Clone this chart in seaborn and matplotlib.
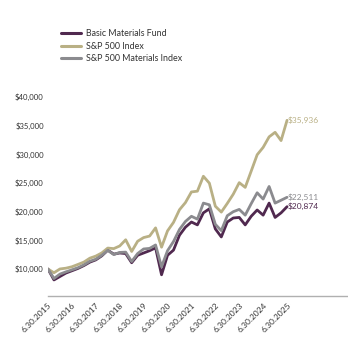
import matplotlib
matplotlib.use("Agg")
import matplotlib.pyplot as plt
import seaborn as sns
import pandas as pd
import numpy as np
from matplotlib.lines import Line2D

years = [str(y) for y in range(2015, 2026)]
tick_labels = [f"6.30.{y}" for y in years]

fund = [10000, 8100, 8700, 9300, 9700, 10100, 10600, 11200, 11600, 12300,
        13300, 12600, 12800, 12700, 11100, 12400, 12800, 13200, 13700, 9000,
        12400, 13300, 15900, 17300, 18200, 17700, 19800, 20500, 17000, 15600,
        18200, 18900, 19000, 17700, 19200, 20300, 19400, 21500, 19000, 19800,
        20874]
sp500 = [10000, 9356, 10015, 10150, 10399, 10800, 11213, 11893, 12260, 12810,
         13660, 13560, 14023, 15104, 13065, 14848, 15487, 15750, 17179, 13812,
         16652, 18139, 20340, 21595, 23444, 23578, 26180, 24977, 20955, 19931,
         21444, 23055, 25063, 24241, 27072, 29930, 31216, 33052, 33843, 32400,
         35936]
materials = [10000, 8350, 9120, 9510, 9860, 10225, 10715, 11350, 11710, 12400,
             13260, 12530, 12900, 12950, 11315, 12700, 13500, 13600, 14200, 10400,
             13200, 14800, 16900, 18300, 19200, 18700, 21500, 21200, 17800, 16700,
             19300, 20000, 20400, 19400, 21400, 23300, 22200, 24400, 21500, 22000,
             22511]

names = ["Basic Materials Fund", "S&P 500 Index", "S&P 500 Materials Index"]
colors = ["#50294f", "#b9b085", "#8b8b8f"]
end_labels = ["$20,874", "$35,936", "$22,511"]
ytick_vals = [10000, 15000, 20000, 25000, 30000, 35000, 40000]

q = np.arange(len(fund))
df = pd.DataFrame({
    "q": np.concatenate([q, q, q]),
    "value": fund + sp500 + materials,
    "series": [names[0]] * len(q) + [names[1]] * len(q) + [names[2]] * len(q),
})

sns.set_style("white")
plt.rcParams["font.family"] = ["Lato", "DejaVu Sans"]

fig = plt.figure(figsize=(3.48, 3.40), dpi=100)
ax = fig.add_axes([48 / 348, 44 / 340, 300 / 348, 199 / 340])

sns.lineplot(data=df, x="q", y="value", hue="series", hue_order=names,
             palette=dict(zip(names, colors)), linewidth=2.0, ax=ax,
             legend=False)

ax.set_xlim(0, 50.2)
ax.set_ylim(5300, 40000)
ax.set_yticks(ytick_vals)
ax.set_yticklabels([f"${v:,}" for v in ytick_vals], fontsize=5.6, color="#333333")
ax.set_xticks(np.arange(0, 41, 4))
ax.set_xticklabels(tick_labels, rotation=45, ha="right", rotation_mode="anchor",
                   fontsize=6.1, color="#333333")
ax.tick_params(axis="both", length=0, pad=3)
ax.tick_params(axis="x", pad=4)
ax.set_xlabel("")
ax.set_ylabel("")
for s in ["top", "right", "left"]:
    ax.spines[s].set_visible(False)
ax.spines["bottom"].set_color("#b0b0b0")
ax.spines["bottom"].set_linewidth(1.0)

series_vals = [fund, sp500, materials]
for vals, c, lab in zip(series_vals, colors, end_labels):
    ax.text(q[-1] + 0.1, vals[-1], lab, color=c, fontsize=6, va="center", ha="left")

handles = [Line2D([0], [0], color=c, lw=2.2) for c in colors]
fig.legend(handles, names, loc="upper left", bbox_to_anchor=(53 / 348, 1 - 21 / 340),
           frameon=False, fontsize=6.4, handlelength=2.25, labelspacing=0.42,
           handletextpad=0.6, labelcolor="#333333")

fig.savefig("out.png", dpi=100)
